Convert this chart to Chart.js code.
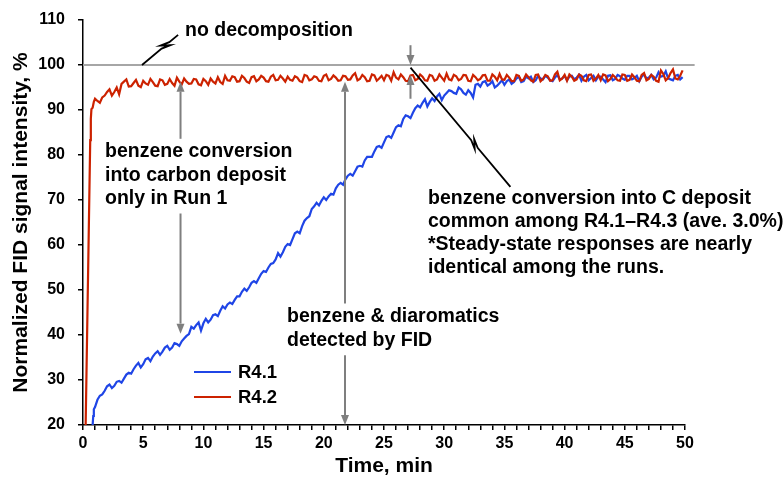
<!DOCTYPE html>
<html><head><meta charset="utf-8">
<script src="https://cdn.jsdelivr.net/npm/chart.js@4.4.1/dist/chart.umd.min.js"></script>
<style>html,body{margin:0;padding:0;background:#fff}</style>
</head><body>
<canvas id="c" width="784" height="486"></canvas>
<script>
// ---------- DATA ----------
const timeGrid = [1.0,1.4,1.8,2.2,2.6,3.0,3.4,3.8,4.2,4.6,5.0,5.4,5.8,6.2,6.6,7.0,7.4,7.8,8.2,8.6,
9.0,9.4,9.8,10.2,10.6,11.0,11.4,11.8,12.2,12.6,13.0,13.4,13.8,14.2,14.6,15.0,15.4,15.8,16.2,16.6,
17.0,17.4,17.8,18.2,18.6,19.0,19.4,19.8,20.2,20.6,21.0,21.4,21.8,22.2,22.6,23.0,23.4,23.8,24.2,24.6,
25.0,25.4,25.8,26.2,26.6,27.0,27.4,27.8,28.2,28.6,29.0,29.4,29.8,30.2,30.6,31.0,31.4,31.8,32.2,32.6,
33.0,33.4,33.8,34.2,34.6,35.0,35.4,35.8,36.2,36.6,37.0,37.4,37.8,38.2,38.6,39.0,39.4,39.8,40.2,40.6,
41.0,41.4,41.8,42.2,42.6,43.0,43.4,43.8,44.2,44.6,45.0,45.4,45.8,46.2,46.6,47.0,47.4,47.8,48.2,48.6,
49.0,49.4,49.8];
const timeGridMid = [1.2,1.6,2.0,2.4,2.8,3.2,3.6,4.0,4.4,4.8,5.2,5.6,6.0,6.4,6.8,7.2,7.6,8.0,8.4,8.8,
9.2,9.6,10.0,10.4,10.8,11.2,11.6,12.0,12.4,12.8,13.2,13.6,14.0,14.4,14.8,15.2,15.6,16.0,16.4,16.8,
17.2,17.6,18.0,18.4,18.8,19.2,19.6,20.0,20.4,20.8,21.2,21.6,22.0,22.4,22.8,23.2,23.6,24.0,24.4,24.8,
25.2,25.6,26.0,26.4,26.8,27.2,27.6,28.0,28.4,28.8,29.2,29.6,30.0,30.4,30.8,31.2,31.6,32.0,32.4,32.8,
33.2,33.6,34.0,34.4,34.8,35.2,35.6,36.0,36.4,36.8,37.2,37.6,38.0,38.4,38.8,39.2,39.6,40.0,40.4,40.8,
41.2,41.6,42.0,42.4,42.8,43.2,43.6,44.0,44.4,44.8,45.2,45.6,46.0,46.4,46.8,47.2,47.6,48.0,48.4,48.8,
49.2,49.6];

const r41StartTime = [0.8,0.85,0.9];
const r41StartValue = [20,22,23.5];
const r41Value = [24.0,26.5,27.6,29.0,28.7,29.8,30.3,31.6,32.4,33.8,
33.5,34.9,35.2,36.4,36.3,37.6,37.2,38.0,38.6,39.8,
41.8,42.2,41.0,43.6,43.4,44.6,45.4,45.9,47.2,47.8,
48.6,50.3,50.6,52.0,52.6,54.2,55.0,56.0,58.2,58.4,
60.2,61.3,63.0,64.2,66.0,68.0,69.4,69.8,70.0,71.4,
72.6,73.8,74.6,75.8,76.4,77.6,78.8,79.6,80.8,82.0,
82.8,84.2,85.0,86.6,88.0,88.6,89.4,91.0,91.6,90.8,
92.6,93.0,92.2,93.8,94.2,93.6,94.6,93.4,93.8,95.6,
95.2,96.4,95.8,95.0,96.0,95.6,96.8,96.2,97.4,96.4,
97.0,96.2,97.6,96.8,97.2,96.4,97.8,97.0,96.6,97.6,
97.2,96.5,97.8,97.1,96.6,97.4,96.2,97.7,96.9,97.5,
96.7,97.6,97.1,96.4,97.9,97.2,96.8,98.4,97.6,97.0,
96.6,97.8,97.3];
const r41ValueMid = [25.6,26.8,28.6,28.2,29.6,29.4,31.2,31.4,33.2,32.8,
34.6,34.2,35.9,35.6,37.2,36.7,38.2,37.6,39.2,40.2,
41.4,42.8,42.6,42.8,44.4,44.2,46.4,46.8,46.9,48.6,
49.6,49.8,51.6,51.6,53.6,54.0,55.8,56.8,57.4,59.6,
60.0,62.6,62.6,65.4,66.4,68.6,68.8,70.6,70.8,71.2,
73.4,73.4,75.4,75.4,77.4,77.4,79.6,79.6,81.8,81.6,
84.0,83.8,86.2,86.4,88.8,88.2,90.4,90.6,92.4,91.8,
92.0,93.6,93.2,94.4,93.8,95.0,93.8,94.4,92.8,95.8,
96.2,95.4,96.4,95.4,96.6,96.4,95.8,97.0,96.2,97.4,
97.4,96.6,97.0,97.6,96.6,97.2,96.8,97.6,97.4,96.8,
97.8,97.4,96.6,97.6,97.4,96.8,97.6,96.6,97.8,97.0,
97.6,96.8,97.6,97.4,97.0,97.8,97.2,97.4,98.6,96.8,
97.6,96.8];

const r42StartTime = [0.22,0.6,0.65,0.7,0.8,0.9];
const r42StartValue = [20,83.3,88,90.2,90.5,91.8];
const r42Value = [92.5,91.6,93.2,94.6,94.0,93.5,96.3,95.2,96.0,95.4,
96.5,95.6,96.2,95.3,96.6,95.8,96.0,97.2,95.7,96.3,
95.9,96.8,95.5,96.4,97.0,95.9,96.2,97.6,96.5,97.3,
96.4,97.1,96.0,97.5,96.8,97.2,96.3,97.8,96.7,97.0,
97.4,96.5,97.2,96.2,97.6,96.8,97.3,96.4,97.9,96.9,
97.2,96.6,97.5,96.8,98.2,96.9,97.3,96.5,97.7,97.0,
96.6,97.6,98.4,96.8,97.3,96.4,97.8,96.9,97.4,96.5,
97.6,96.8,97.2,98.1,96.6,97.5,96.9,97.7,96.4,97.3,
96.9,97.8,96.5,97.4,98.0,96.7,97.2,96.4,97.6,96.8,
97.3,96.3,97.9,96.9,97.5,96.6,98.5,97.0,96.5,97.4,
96.8,97.6,96.4,97.9,97.0,96.6,97.7,96.9,97.3,96.5,
97.8,96.7,97.3,96.4,98.2,96.9,97.4,96.3,98.0,97.1,
99.0,96.8,98.8];
const r42ValueMid = [92.0,92.8,94.0,93.2,95.0,95.8,96.8,95.3,96.7,95.1,
95.9,96.9,95.4,96.8,95.6,96.9,95.4,96.3,97.0,95.8,
96.9,95.7,96.9,95.6,96.3,97.3,95.8,96.6,97.5,96.3,
97.6,96.3,97.3,96.4,97.6,96.4,97.4,96.6,97.6,96.3,
96.7,97.5,96.4,97.8,96.6,97.5,96.5,97.6,96.6,97.7,
96.5,97.6,96.7,97.7,96.6,97.8,96.4,97.9,96.5,97.6,
97.8,96.5,97.2,97.9,96.5,97.7,96.6,97.9,96.6,97.8,
96.5,97.9,96.5,96.8,97.8,96.6,97.8,96.5,97.8,96.6,
97.7,96.5,97.9,96.6,96.8,97.8,96.4,97.8,96.5,97.9,
96.6,97.8,96.4,97.8,96.5,97.9,96.6,97.8,97.9,96.5,
97.9,96.6,97.8,96.5,97.8,97.9,96.4,97.8,96.6,97.9,
96.5,97.9,96.5,97.8,96.6,97.8,96.5,98.8,96.6,98.2,
97.0,97.6];

const refTime = [0, 50.8];
const refValue = [100, 100];

const seriesLabels = ['R4.1', 'R4.2'];
const xTitle = 'Time, min';
const yTitle = 'Normalized FID signal intensity, %';

// ---------- helpers ----------
function pairs(ts, vs){ return ts.map((t,i)=>({x:t, y:vs[i]})); }
function merged(){ const out = []; for (let i=0;i<arguments.length;i+=2) out.push(...pairs(arguments[i], arguments[i+1])); return out.sort((a,b)=>a.x-b.x); }
const r41Data = merged(r41StartTime, r41StartValue, timeGrid, r41Value, timeGridMid, r41ValueMid);
const r42Data = merged(r42StartTime, r42StartValue, timeGrid, r42Value, timeGridMid, r42ValueMid);
const refData = pairs(refTime, refValue);

const FONT = "'Liberation Sans', Arial, Helvetica, sans-serif";
const BLUE = '#1f45e6';
const RED = '#cc2200';
const GRAY = '#7f7f7f';

// annotation geometry (data coordinates)
const arrows = [ // [x, fromY, tipY]
  [8.1, 83.6, 96.3], [8.1, 67, 40.3],
  [21.76, 47, 96.3], [21.76, 35.5, 20],
  [27.2, 104.4, 100], [27.2, 92.5, 97.8]
];
const leaders = [ // [x0,y0,x1,y1,breakFraction]
  [4.9, 100, 7.9, 106.7, 0.65],
  [27.2, 99.4, 35.5, 72.9, 0.64]
];
const notes = [ // [lines, leftPx, firstCenterPx, lineStep]
  [['no decomposition'], 185, 31, 23],
  [['benzene conversion','into carbon deposit','only in Run 1'], 105, 152, 23.3],
  [['benzene & diaromatics','detected by FID'], 287, 317, 23.3],
  [['benzene conversion into C deposit','common among R4.1\u2013R4.3 (ave. 3.0%)','*Steady-state responses are nearly','identical among the runs.'], 428, 199, 23]
];

function drawArrow(ctx, x, y0, y1){
  const dir = y1 > y0 ? 1 : -1;
  const head = 10, hw = 4;
  ctx.beginPath();
  ctx.moveTo(x, y0);
  ctx.lineTo(x, y1 - dir*head);
  ctx.stroke();
  ctx.beginPath();
  ctx.moveTo(x, y1);
  ctx.lineTo(x - hw, y1 - dir*head);
  ctx.lineTo(x + hw, y1 - dir*head);
  ctx.closePath();
  ctx.fill();
}

const annotPlugin = {
  id: 'annot',
  afterDatasetsDraw(chart){
    const {ctx} = chart;
    const xs = chart.scales.x, ys = chart.scales.y;
    const X = v => xs.getPixelForValue(v), Y = v => ys.getPixelForValue(v);
    ctx.save();
    ctx.strokeStyle = GRAY; ctx.fillStyle = GRAY; ctx.lineWidth = 2;
    arrows.forEach(a => drawArrow(ctx, X(a[0]), Y(a[1]), Y(a[2])));
    ctx.strokeStyle = '#000'; ctx.lineWidth = 1.8; ctx.lineJoin = 'miter';
    leaders.forEach(l => {
      const sx = X(l[0]), sy = Y(l[1]), ex = X(l[2]), ey = Y(l[3]);
      const L = Math.hypot(ex-sx, ey-sy);
      const dx = (ex-sx)/L, dy = (ey-sy)/L, nx = -dy, ny = dx;
      const cx = sx + dx*L*l[4], cy = sy + dy*L*l[4];
      ctx.beginPath();
      ctx.moveTo(sx, sy);
      ctx.lineTo(cx - dx*5, cy - dy*5);
      ctx.lineTo(cx + dx*4 + nx*3, cy + dy*4 + ny*3);
      ctx.lineTo(cx - dx*4 - nx*3, cy - dy*4 - ny*3);
      ctx.lineTo(cx + dx*5, cy + dy*5);
      ctx.lineTo(ex, ey);
      ctx.stroke();
    });
    ctx.fillStyle = '#000';
    ctx.font = 'bold 19.5px ' + FONT;
    ctx.textAlign = 'left'; ctx.textBaseline = 'middle';
    notes.forEach(n => n[0].forEach((s,i) => ctx.fillText(s, n[1], n[2] + i*n[3])));
    const ds = chart.data.datasets;
    ctx.font = 'bold 18.5px ' + FONT;
    [0,1].forEach(i => {
      const yy = 372 + i*25;
      ctx.strokeStyle = ds[i].borderColor; ctx.lineWidth = 2;
      ctx.beginPath(); ctx.moveTo(194, yy); ctx.lineTo(231, yy); ctx.stroke();
      ctx.fillStyle = '#000';
      ctx.fillText(ds[i].label, 238, yy + 1);
    });
    ctx.restore();
  }
};

new Chart(document.getElementById('c'), {
  type: 'line',
  data: {
    datasets: [
      {label: seriesLabels[0], data: r41Data, borderColor: BLUE, borderWidth: 2.2, pointRadius: 0, tension: 0, order: 1},
      {label: seriesLabels[1], data: r42Data, borderColor: RED, borderWidth: 2.2, pointRadius: 0, tension: 0, order: 0},
      {label: 'ref', data: refData, borderColor: '#a6a6a6', borderWidth: 2, pointRadius: 0, order: 2, clip: false}
    ]
  },
  options: {
    responsive: false,
    animation: false,
    events: [],
    layout: {padding: {left: 0, top: 20, right: 99, bottom: 0}},
    plugins: {legend: {display: false}, tooltip: {enabled: false}},
    scales: {
      x: {
        type: 'linear', min: 0, max: 50,
        afterFit(s){ s.height = 61; s.paddingLeft = 0; s.paddingRight = 0; },
        ticks: {stepSize: 1, autoSkip: false, maxRotation: 0, padding: 4, color: '#000',
          font: {family: FONT, size: 16, weight: 'bold'},
          callback: v => (v % 5 === 0 ? String(v) : '')},
        grid: {drawOnChartArea: false, drawTicks: true, tickLength: 5, color: '#000', lineWidth: 1.5},
        border: {display: true, color: '#000', width: 1.5},
        title: {display: true, text: xTitle, color: '#000',
          font: {family: FONT, size: 21, weight: 'bold', lineHeight: 1.2}, padding: {top: 0, bottom: 7}}
      },
      y: {
        type: 'linear', min: 20, max: 110,
        afterFit(s){ s.width = 83; s.paddingTop = 0; s.paddingBottom = 0; },
        ticks: {stepSize: 10, padding: 13, color: '#000',
          font: {family: FONT, size: 16, weight: 'bold'}},
        grid: {drawOnChartArea: false, drawTicks: true, tickLength: 5, color: '#000', lineWidth: 1.5},
        border: {display: true, color: '#000', width: 1.5},
        title: {display: true, text: yTitle, color: '#000',
          font: {family: FONT, size: 21, weight: 'bold', lineHeight: 1.2}, padding: {top: 9, bottom: 0}}
      }
    }
  },
  plugins: [annotPlugin]
});
</script>
</body></html>
